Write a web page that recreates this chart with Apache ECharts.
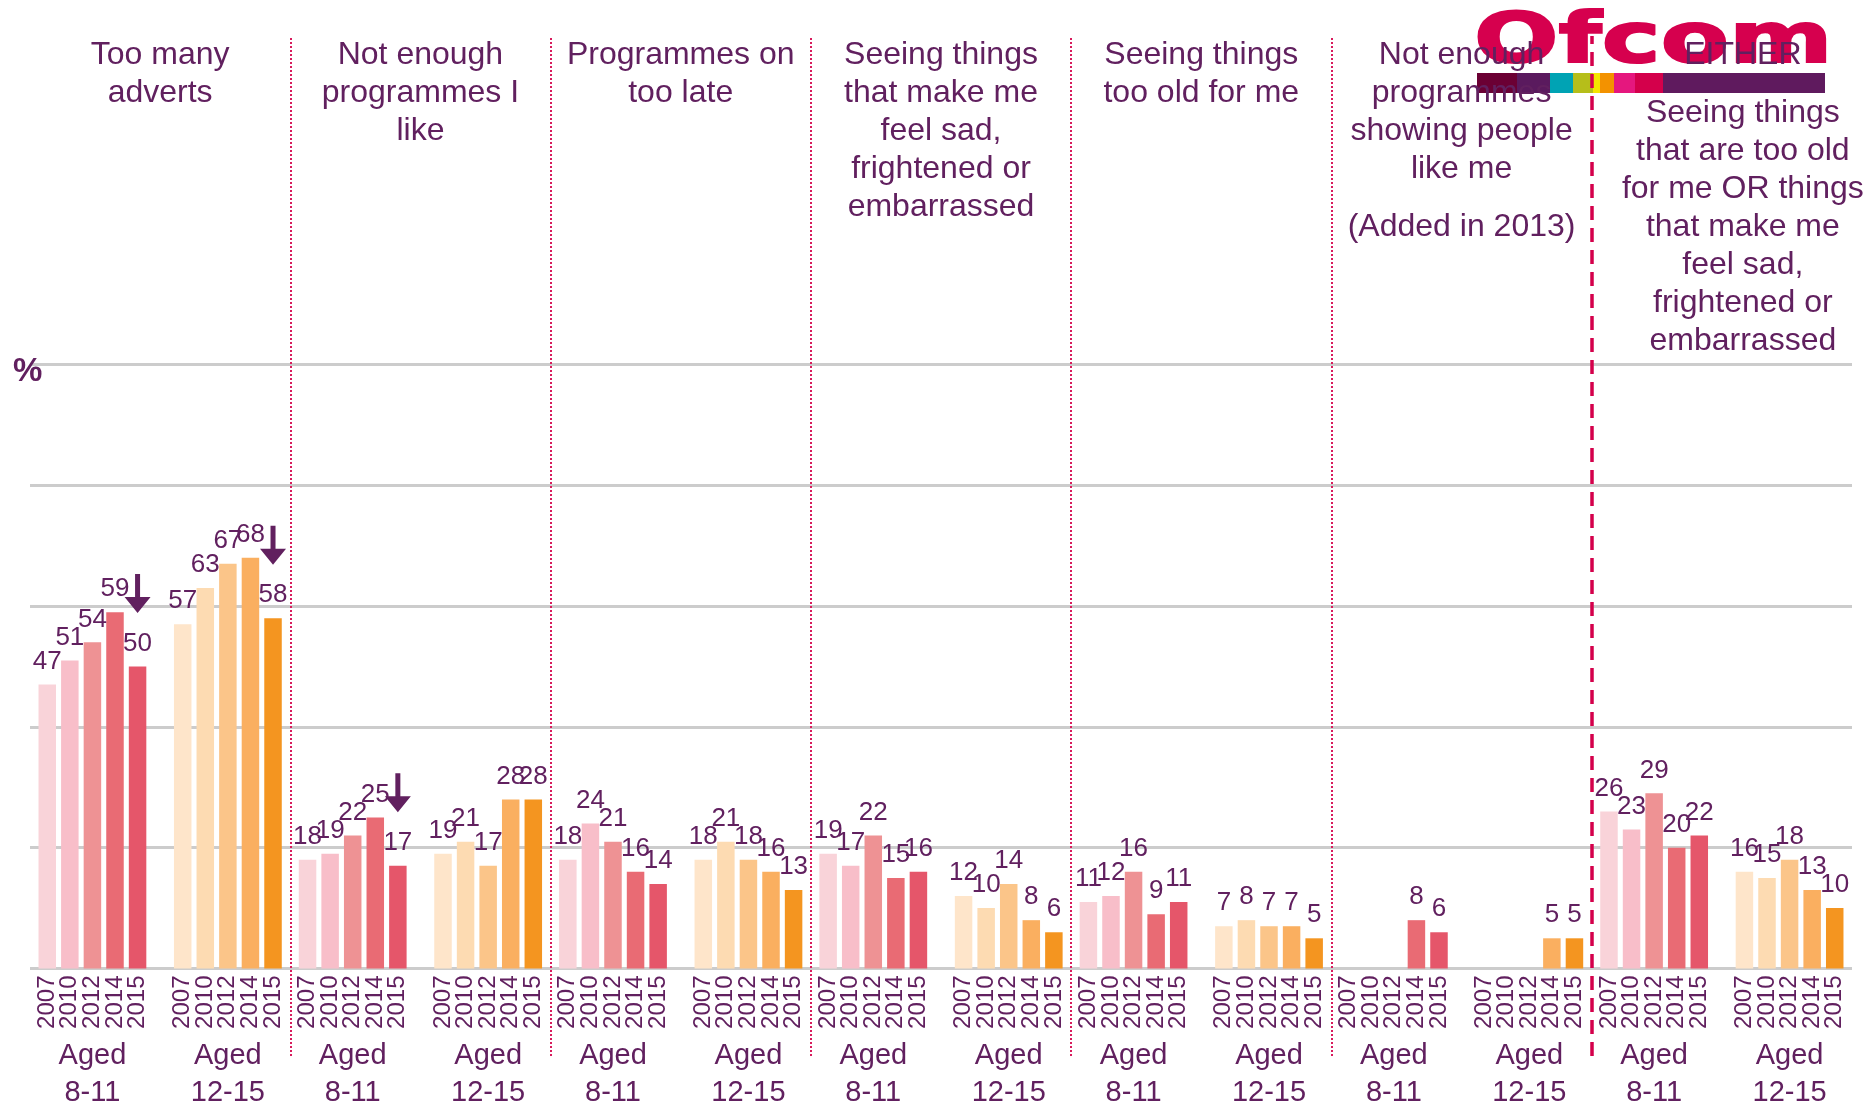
<!DOCTYPE html>
<html>
<head>
<meta charset="utf-8">
<script src="https://cdn.jsdelivr.net/npm/echarts@6/dist/echarts.min.js"></script>
<style>
  html, body { margin: 0; padding: 0; background: #fff; }
  #chart { width: 1868px; height: 1102px; }
</style>
</head>
<body>
<div id="chart"></div>
<script>
  const topics = [
    'Too many\nadverts',
    'Not enough\nprogrammes I\nlike',
    'Programmes on\ntoo late',
    'Seeing things\nthat make me\nfeel sad,\nfrightened or\nembarrassed',
    'Seeing things\ntoo old for me',
    'Not enough\nprogrammes\nshowing people\nlike me\n\n(Added in 2013)',
    'EITHER\n\nSeeing things\nthat are too old\nfor me OR things\nthat make me\nfeel sad,\nfrightened or\nembarrassed'
  ];
  const years = ['2007', '2010', '2012', '2014', '2015'];
  const ageGroups = ['Aged\n8-11', 'Aged\n12-15'];

  // % per topic (null = not asked that year)
  const aged811_2007 = [47, 18, 18, 19, 11, null, 26];
  const aged811_2010 = [51, 19, 24, 17, 12, null, 23];
  const aged811_2012 = [54, 22, 21, 22, 16, null, 29];
  const aged811_2014 = [59, 25, 16, 15, 9, 8, 20];
  const aged811_2015 = [50, 17, 14, 16, 11, 6, 22];

  const aged1215_2007 = [57, 19, 18, 12, 7, null, 16];
  const aged1215_2010 = [63, 21, 21, 10, 8, null, 15];
  const aged1215_2012 = [67, 17, 18, 14, 7, null, 18];
  const aged1215_2014 = [68, 28, 16, 8, 7, 5, 13];
  const aged1215_2015 = [58, 28, 13, 6, 5, 5, 10];

  // topics with a significant fall 2014 -> 2015 (arrow)
  const dropTopics811 = [0, 1];
  const dropTopics1215 = [0];

  const PURPLE = '#61205F';
  const COLORS_811 = ['#F9D3D9', '#F8BEC9', '#EE9294', '#E96B74', '#E5566A'];
  const COLORS_1215 = ['#FEE5CA', '#FDDBB2', '#FBC589', '#FAAF60', '#F49520'];
  const ARROW = 'path://M10.5,0L15.5,0L15.5,23L26,23L13,39L0,23L10.5,23Z';
  const BAR_W = 17.5;
  const BAR_GAP = '29%';

  const groups = [
    { age: ageGroups[0], colors: COLORS_811, drops: dropTopics811,
      values: [aged811_2007, aged811_2010, aged811_2012, aged811_2014, aged811_2015] },
    { age: ageGroups[1], colors: COLORS_1215, drops: dropTopics1215,
      values: [aged1215_2007, aged1215_2010, aged1215_2012, aged1215_2014, aged1215_2015] }
  ];

  const series = [];
  const zeros = topics.map(() => 0);
  groups.forEach((g, gi) => {
    if (gi === 1) {
      // empty slot between the two age groups
      series.push({ type: 'bar', stack: 'spacer', barWidth: BAR_W, barGap: BAR_GAP,
        data: topics.map(() => '-') });
    }
    g.values.forEach((vals, yi) => {
      const stack = 's' + gi + yi;
      // year label under each bar
      series.push({
        type: 'bar', stack, barWidth: BAR_W, barGap: BAR_GAP, silent: true,
        data: zeros, itemStyle: { color: 'rgba(0,0,0,0)' },
        label: {
          show: true, position: 'bottom', distance: 7, rotate: 90,
          align: 'right', verticalAlign: 'middle',
          formatter: years[yi], fontSize: 24, color: PURPLE
        }
      });
      if (yi === 2) {
        series.push({
          type: 'bar', stack, barWidth: BAR_W, barGap: BAR_GAP, silent: true,
          data: zeros, itemStyle: { color: 'rgba(0,0,0,0)' },
          label: {
            show: true, position: 'bottom', distance: 69,
            align: 'center', verticalAlign: 'top',
            formatter: g.age, fontSize: 29, lineHeight: 37, color: PURPLE
          }
        });
      }
      const s = {
        type: 'bar', stack, barWidth: BAR_W, barGap: BAR_GAP,
        data: vals.map(v => v == null ? '-' : v),
        itemStyle: { color: g.colors[yi] },
        label: { show: true, position: 'top', distance: 10, fontSize: 26, color: PURPLE }
      };
      if (yi === 4) {
        s.markPoint = {
          symbol: ARROW, symbolSize: [26, 39], symbolOffset: [0, -73],
          silent: true, itemStyle: { color: PURPLE }, label: { show: false },
          data: g.drops.map(t => ({ coord: [t, vals[t]] }))
        };
      }
      series.push(s);
    });
  });

  // topic separators, drawn in the tall frame grid
  series.push({
    type: 'scatter', xAxisIndex: 2, yAxisIndex: 1, data: [], silent: true,
    markLine: {
      symbol: 'none', silent: true, label: { show: false },
      data: [
        { xAxis: 1 }, { xAxis: 2 }, { xAxis: 3 }, { xAxis: 4 }, { xAxis: 5 },
        { xAxis: 6, lineStyle: { color: '#D4004B', width: 3.5, type: [14, 8] } }
      ],
      lineStyle: { color: '#D81B5C', width: 2, type: [2, 2] }
    }
  });

  // last heading sits a little right of its column centre
  const topicRich = {
    t: { fontSize: 32, lineHeight: 38, color: PURPLE },
    r: { fontSize: 32, lineHeight: 38, color: PURPLE, padding: [0, 0, 0, 42] },
    g: { fontSize: 10, lineHeight: 20 }
  };

  const stripe = [
    [1477, 1517, '#6B0034'], [1517, 1550, '#5A1A5E'], [1550, 1573, '#00A3B4'],
    [1573, 1593, '#B6BE1A'], [1593, 1600, '#F5E500'], [1600, 1614, '#F39200'],
    [1614, 1635, '#E5177E'], [1635, 1663, '#D4004B'], [1663, 1825, '#5F1A5E']
  ];

  const chart = echarts.init(document.getElementById('chart'));
  chart.setOption({
    animation: false,
    textStyle: { fontFamily: 'Liberation Sans, Arial, sans-serif' },
    title: {
      text: '%', left: 8, top: 350,
      textStyle: { fontSize: 33, fontWeight: 'bold', color: PURPLE }
    },
    graphic: [
      {
        type: 'text', x: 1474, y: 9, scaleX: 1.42, z: -10,
        style: {
          text: 'Ofcom', font: 'bold 70px "DejaVu Sans"', fill: '#D6004E',
          stroke: '#D6004E', lineWidth: 2
        }
      }
    ].concat(stripe.map(s => ({
      type: 'rect', z: -10, shape: { x: s[0], y: 73, width: s[1] - s[0], height: 20 },
      style: { fill: s[2] }
    }))),
    grid: [
      { left: 30, right: 16, top: 364.5, bottom: 133.5 },
      { left: 30, right: 16, top: 36, bottom: 46 }
    ],
    xAxis: [
      {
        type: 'category', gridIndex: 0, data: topics,
        axisLine: { show: false }, axisTick: { show: false },
        axisLabel: { show: false }, splitLine: { show: false }
      },
      {
        type: 'category', gridIndex: 1, data: topics, position: 'top',
        axisLine: { show: false }, axisTick: { show: false }, splitLine: { show: false },
        axisLabel: {
          inside: true, interval: 0, margin: 0, rich: topicRich,
          formatter: (v, i) => {
            const tag = i === topics.length - 1 ? 'r' : 't';
            return v.split('\n').map(l => l ? '{' + tag + '|' + l + '}' : '{g| }').join('\n');
          }
        }
      },
      {
        type: 'value', gridIndex: 1, min: 0, max: topics.length, show: false
      }
    ],
    yAxis: [
      {
        type: 'value', gridIndex: 0, min: 0, max: 100, interval: 20,
        axisLine: { show: false }, axisTick: { show: false }, axisLabel: { show: false },
        splitLine: { lineStyle: { color: '#CCCCCC', width: 3 } }
      },
      { type: 'value', gridIndex: 1, min: 0, max: 1, show: false }
    ],
    series
  });
</script>
</body>
</html>
